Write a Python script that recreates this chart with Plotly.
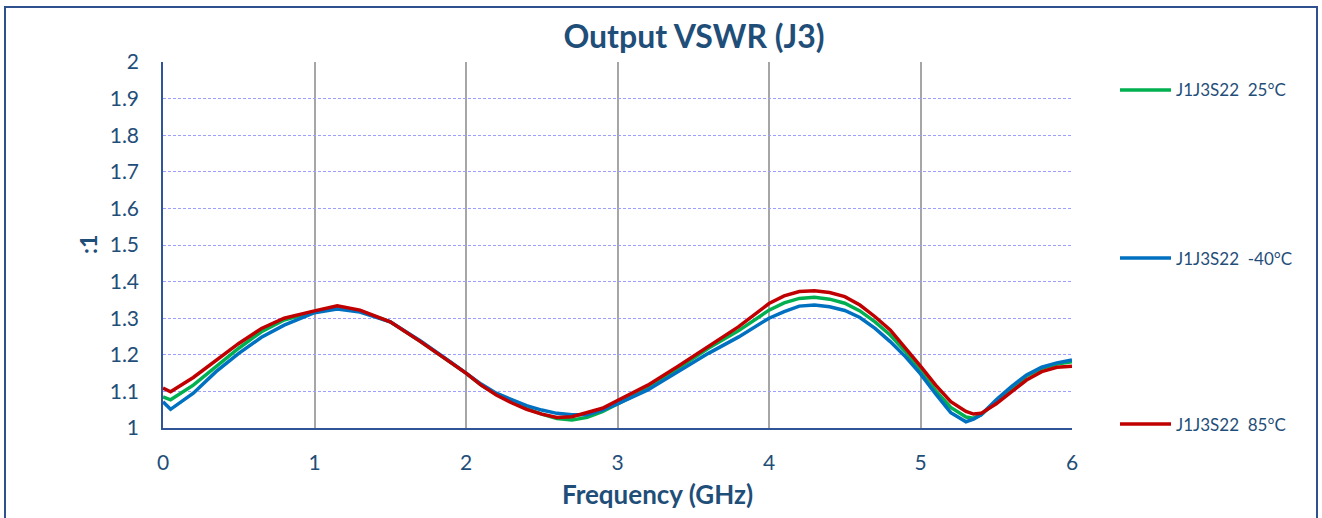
import plotly.graph_objects as go

# 周波数 (GHz)
freq = [0, 0.05, 0.2, 0.35, 0.5, 0.65, 0.8, 1.0, 1.15, 1.3, 1.5, 1.7, 1.9, 2.0,
        2.1, 2.2, 2.3, 2.4, 2.5, 2.6, 2.7, 2.8, 2.9, 3.0, 3.2, 3.4, 3.6, 3.8,
        4.0, 4.1, 4.2, 4.3, 4.4, 4.5, 4.6, 4.7, 4.8, 4.9, 5.0, 5.1, 5.2, 5.3,
        5.35, 5.4, 5.5, 5.6, 5.7, 5.8, 5.9, 6.0]

vswr_25 = [1.085, 1.077, 1.117, 1.168, 1.218, 1.263, 1.295, 1.318, 1.329, 1.320,
           1.290, 1.236, 1.177, 1.150, 1.117, 1.092, 1.072, 1.053, 1.038, 1.026,
           1.022, 1.029, 1.045, 1.066, 1.108, 1.163, 1.218, 1.266, 1.322, 1.342,
           1.354, 1.357, 1.352, 1.341, 1.320, 1.290, 1.254, 1.209, 1.157, 1.102,
           1.056, 1.030, 1.027, 1.036, 1.072, 1.108, 1.142, 1.163, 1.175, 1.181]

vswr_m40 = [1.072, 1.051, 1.095, 1.154, 1.204, 1.248, 1.281, 1.315, 1.325, 1.317,
            1.290, 1.238, 1.180, 1.150, 1.120, 1.095, 1.077, 1.061, 1.049, 1.040,
            1.036, 1.036, 1.049, 1.066, 1.104, 1.154, 1.204, 1.249, 1.300, 1.318,
            1.333, 1.336, 1.331, 1.321, 1.302, 1.272, 1.236, 1.195, 1.148, 1.093,
            1.042, 1.017, 1.024, 1.036, 1.077, 1.113, 1.145, 1.166, 1.178, 1.186]

vswr_85 = [1.109, 1.099, 1.138, 1.186, 1.231, 1.272, 1.300, 1.320, 1.334, 1.322,
           1.290, 1.236, 1.177, 1.150, 1.117, 1.090, 1.069, 1.051, 1.038, 1.029,
           1.031, 1.042, 1.054, 1.075, 1.117, 1.169, 1.224, 1.277, 1.340, 1.361,
           1.373, 1.375, 1.370, 1.359, 1.336, 1.304, 1.268, 1.220, 1.169, 1.117,
           1.072, 1.045, 1.038, 1.040, 1.066, 1.099, 1.131, 1.154, 1.166, 1.169]

series = [
    ("J1J3S22\u00a0 25°C", vswr_25, "#00B050"),
    ("J1J3S22\u00a0 -40°C", vswr_m40, "#0070C0"),
    ("J1J3S22\u00a0 85°C", vswr_85, "#C00000"),
]

x_ticks = [0, 1, 2, 3, 4, 5, 6]
y_ticks = [1, 1.1, 1.2, 1.3, 1.4, 1.5, 1.6, 1.7, 1.8, 1.9, 2]
y_labels = ["1", "1.1", "1.2", "1.3", "1.4", "1.5", "1.6", "1.7", "1.8", "1.9", "2"]

TXT = "#1F4E79"
FONT = "Lato"

W, H = 1322, 518
L, T = 163, 62
R, B = W - 1072, H - 428
pw, ph = W - L - R, H - T - B


def px(v):
    return (v - L) / pw


def py(v):
    return 1 - (v - T) / ph


fig = go.Figure()

for name, vals, color in series:
    fig.add_trace(go.Scatter(
        x=freq, y=vals, name=name, mode="lines",
        line=dict(color=color, width=3.5),
    ))

fig.update_layout(
    width=W, height=H,
    margin=dict(l=L, r=R, t=T, b=B, autoexpand=False),
    paper_bgcolor="white", plot_bgcolor="white",
    font=dict(family=FONT, color=TXT),
    title=dict(text="<b>Output VSWR (J3)</b>", x=694 / W, xanchor="center",
               xref="container", y=1 - 37 / H, yanchor="middle",
               yref="container", font=dict(size=32, color=TXT, family=FONT)),
    showlegend=False,
)

fig.update_xaxes(
    range=[0, 6], tickvals=x_ticks, ticktext=[str(v) for v in x_ticks],
    showgrid=True, gridcolor="#A6A6A6", gridwidth=1.5,
    showline=True, linecolor="#2F5597", linewidth=1.5,
    zeroline=False, ticks="", ticklabelstandoff=15,
    tickfont=dict(size=21, color=TXT, family=FONT),
)
fig.update_yaxes(
    range=[1, 2], tickvals=y_ticks, ticktext=y_labels,
    showgrid=True, gridcolor="#9E9EFF", gridwidth=1.2, griddash="3px,2px",
    showline=True, linecolor="#2F5597", linewidth=1.5,
    zeroline=False, ticks="", ticklabelstandoff=18,
    tickfont=dict(size=21, color=TXT, family=FONT),
)

# 軸タイトル
fig.add_annotation(text="<b>Frequency (GHz)</b>", xref="paper", yref="paper",
                   x=px(657), y=py(494), xanchor="center", yanchor="middle",
                   showarrow=False, font=dict(size=26, color=TXT, family=FONT))
fig.add_annotation(text="<b>:1</b>", xref="paper", yref="paper",
                   x=px(88), y=py(245), textangle=-90,
                   xanchor="center", yanchor="middle", showarrow=False,
                   font=dict(size=23, color=TXT, family=FONT))

# 凡例 (Excel風に右側へ縦に離して配置)
for (name, _, color), ly in zip(series, [90, 258, 424]):
    fig.add_shape(type="line", xref="paper", yref="paper",
                  x0=px(1120), x1=px(1171), y0=py(ly), y1=py(ly),
                  line=dict(color=color, width=3.5))
    fig.add_annotation(text=name, xref="paper", yref="paper",
                       x=px(1174), y=py(ly), xanchor="left", yanchor="middle",
                       showarrow=False, font=dict(size=17, color=TXT, family=FONT))

# 外枠
fig.add_shape(type="rect", xref="paper", yref="paper",
              x0=px(5), x1=px(1317), y0=py(530), y1=py(7),
              line=dict(color="#2F528F", width=2), layer="below")

# body の既定マージンを消してグラフをページ左上に合わせる
fig.write_html("out.html", config={"displayModeBar": False},
               post_script="document.body.style.margin='0';")
